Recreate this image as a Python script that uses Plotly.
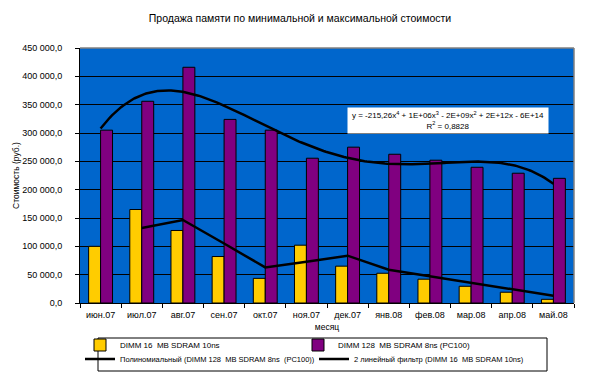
import numpy as np
import plotly.graph_objects as go

months = ["июн.07", "июл.07", "авг.07", "сен.07", "окт.07", "ноя.07", "дек.07",
          "янв.08", "фев.08", "мар.08", "апр.08", "май.08"]
dimm16 = [100000, 165000, 128000, 82000, 43500, 102000, 65000, 52500, 42000, 29500, 19000, 6500]
dimm128 = [305000, 356000, 416000, 324000, 305000, 255500, 275000, 262500, 252000, 239500, 229000, 220000]
ytick_vals = [0, 50000, 100000, 150000, 200000, 250000, 300000, 350000, 400000, 450000]
ytick_text = ["0,0", "50 000,0", "100 000,0", "150 000,0", "200 000,0", "250 000,0",
              "300 000,0", "350 000,0", "400 000,0", "450 000,0"]
eq_text = "y = -215,26x<sup>4</sup> + 1E+06x<sup>3</sup> - 2E+09x<sup>2</sup> + 2E+12x - 6E+14<br>R<sup>2</sup> = 0,8828"

idx = np.arange(len(months))

# polynomial trend (degree 4) fitted to DIMM 128
coef = np.polyfit(idx, dimm128, 4)
xs = np.linspace(0, len(months) - 1, 200)
poly_y = np.polyval(coef, xs)

# 2-period moving average of DIMM 16
ma_x = idx[1:]
ma_y = [(dimm16[i - 1] + dimm16[i]) / 2 for i in range(1, len(dimm16))]

FONT = "Liberation Sans, Arial, sans-serif"

# the page body has an 8px margin, so the figure is laid out in page pixels minus 8
OFF = 8
FIG_W, FIG_H = 592, 390
L, R, T = 80 - OFF, 574 - OFF, 48 - OFF      # plot left/right/top (figure px)
PLOT_B = 303 - OFF                            # plot bottom (figure px)
PAPER_B = 385                                 # paper bottom (figure px), leaves room for legend
W, P = R - L, PAPER_B - T
dom_lo = (PAPER_B - PLOT_B) / P


def px_x(p):
    return (p - OFF - L) / W


def px_y(p):
    return (PAPER_B - (p - OFF)) / P


fig = go.Figure()
fig.add_trace(go.Bar(x=idx, y=dimm16, name="DIMM 16  MB SDRAM 10ns", legend="legend",
                     marker=dict(color="#FFCC00", line=dict(color="black", width=1))))
fig.add_trace(go.Bar(x=idx, y=dimm128, name="DIMM 128  MB SDRAM 8ns (PC100)", legend="legend",
                     marker=dict(color="#800080", line=dict(color="black", width=1))))
fig.add_trace(go.Scatter(x=xs, y=poly_y, mode="lines", legend="legend2",
                         name="Полиномиальный (DIMM 128  MB SDRAM 8ns  (PC100))",
                         line=dict(color="black", width=2.5)))
fig.add_trace(go.Scatter(x=ma_x, y=ma_y, mode="lines", legend="legend2",
                         name="2 линейный фильтр (DIMM 16  MB SDRAM 10ns)",
                         line=dict(color="black", width=2.5)))

legend_common = dict(orientation="h", xanchor="left", yanchor="top",
                     entrywidthmode="pixels",
                     borderwidth=0, bgcolor="rgba(0,0,0,0)", tracegroupgap=0)

# legend frame corners (page pixels -> paper)
fx0, fx1, fy0, fy1 = px_x(98), px_x(547), px_y(338), px_y(371)
frame_line = dict(color="black", width=1)

fig.update_layout(
    width=FIG_W, height=FIG_H,
    margin=dict(l=L, r=FIG_W - R, t=T, b=FIG_H - PAPER_B),
    paper_bgcolor="white", plot_bgcolor="#0066CC",
    font=dict(family=FONT, size=8, color="black"),
    barmode="group", bargap=0.42, bargroupgap=0,
    title=dict(text="Продажа памяти по минимальной и максимальной стоимости",
               x=(300 - OFF) / FIG_W, xanchor="center", y=1 - (18 - OFF) / FIG_H, yanchor="middle",
               font=dict(family=FONT, size=10.5, color="black")),
    xaxis=dict(range=[-0.5, len(months) - 0.5], tickmode="array", tickvals=idx, ticktext=months,
               ticks="", showgrid=False, zeroline=False, automargin=False,
               showline=True, linecolor="black", linewidth=1,
               minor=dict(tick0=-0.5, dtick=1, ticks="outside", ticklen=4,
                          tickcolor="black", tickwidth=1, showgrid=False),
               ticklabelstandoff=3,
               title=dict(text="месяц", font=dict(size=8.5), standoff=5),
               tickfont=dict(size=9)),
    yaxis=dict(domain=[dom_lo, 1], range=[0, 450000], tickmode="array",
               tickvals=ytick_vals, ticktext=ytick_text, automargin=False,
               showgrid=True, gridcolor="black", gridwidth=1, zeroline=False,
               showline=True, linecolor="black", linewidth=1,
               ticks="outside", ticklen=4, tickcolor="black",
               ticklabelstandoff=11,
               title=dict(text="Стоимость (руб.)", font=dict(size=8.5), standoff=1),
               tickfont=dict(size=9)),
    showlegend=True,
    legend=dict(x=0, y=px_y(330.5), entrywidth=173,
                font=dict(family=FONT, size=8, color="black"), **legend_common),
    legend2=dict(x=0, y=px_y(344.5), entrywidth=189,
                 font=dict(family=FONT, size=7.5, color="black"), **legend_common),
    shapes=[
        dict(type="line", xref="paper", yref="paper", x0=0, x1=1, y0=1, y1=1,
             line=dict(color="#808080", width=1.5), layer="above"),
        dict(type="line", xref="paper", yref="paper", x0=1, x1=1, y0=dom_lo, y1=1,
             line=dict(color="#808080", width=1.5), layer="above"),
        dict(type="rect", xref="paper", yref="paper", x0=fx0, x1=fx1, y0=fy0, y1=fy1,
             line=frame_line, fillcolor="rgba(0,0,0,0)", layer="above"),
    ],
    annotations=[
        dict(text=eq_text, xref="paper", yref="paper", x=px_x(448), y=px_y(120),
             xanchor="center", yanchor="middle", showarrow=False,
             bgcolor="white", font=dict(size=8, color="black"), align="center",
             borderpad=2, width=196),
    ],
)

fig.write_html("out.html")
